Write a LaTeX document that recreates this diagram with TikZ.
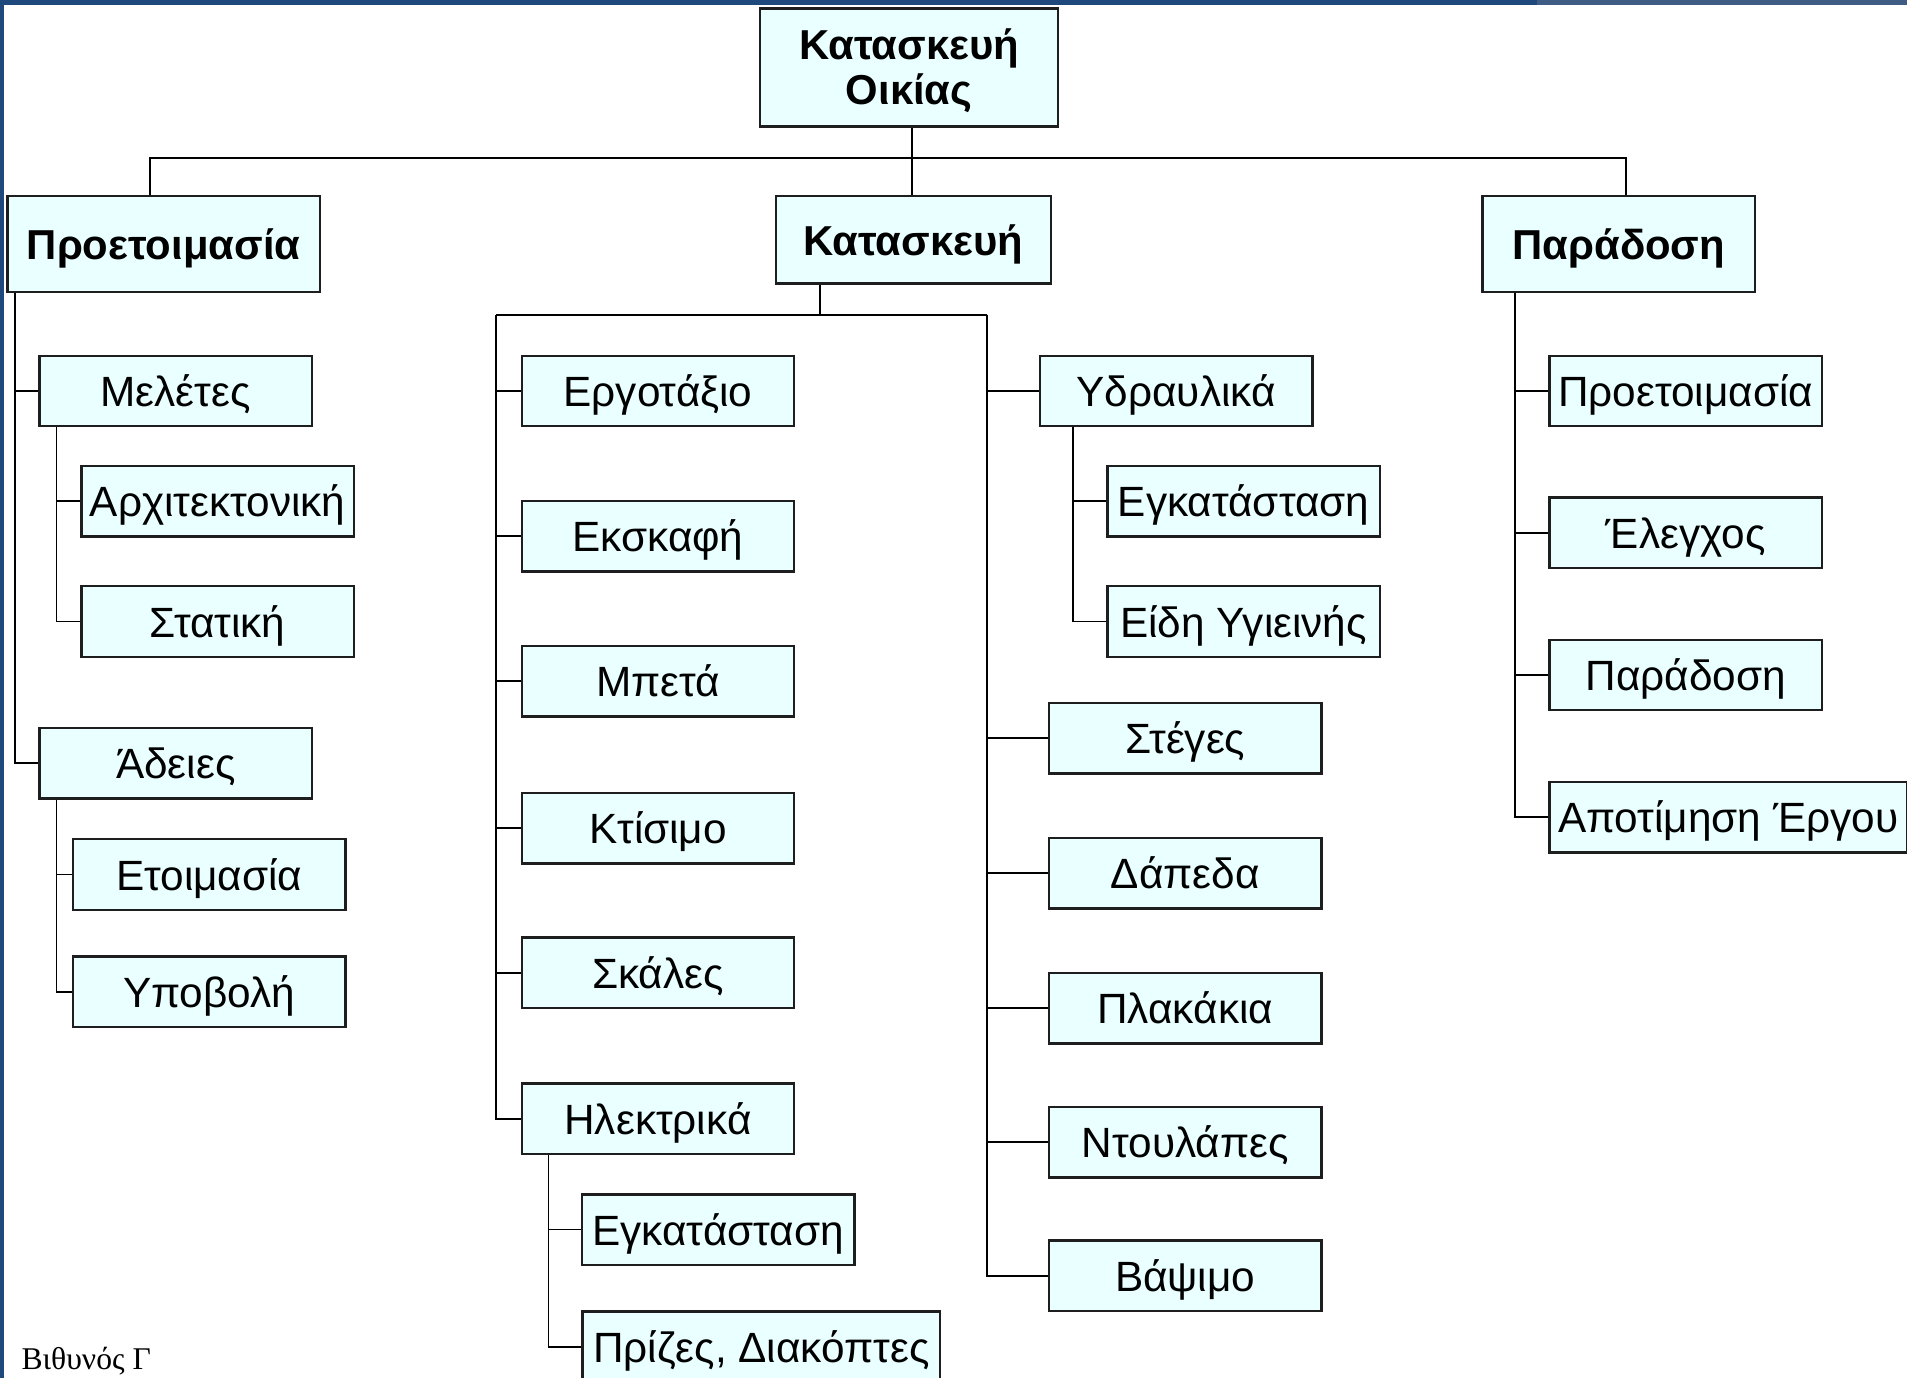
\documentclass[tikz,border=0pt]{standalone}
\usepackage{fontspec}
\setmainfont{Liberation Sans}
\newfontfamily\signfont{Liberation Serif}
\definecolor{boxfill}{RGB}{234,255,255}
\definecolor{boxline}{RGB}{30,30,30}
\definecolor{banddark}{RGB}{31,73,125}
\definecolor{bandlight}{RGB}{62,92,132}
\tikzset{every picture/.style={line width=0.75pt}}
\tikzset{
  wbsbox/.style={draw=boxline, line width=1pt, fill=boxfill, rectangle, inner sep=0pt,
    minimum width=112pt, minimum height=29pt, text height=16.2pt, text depth=3.4pt,
    font=\fontsize{17.4}{18.5}\selectfont},
  wbstop/.style={wbsbox, font=\fontsize{17.2}{18.5}\selectfont\bfseries, align=center}
}
\begin{document}
\begin{tikzpicture}[x=0.5pt,y=0.5pt,yscale=-1]
\useasboundingbox (0,0) rectangle (1568,1133);
\fill[white] (0,0) rectangle (1568,1133);
%Frame bands
\fill[banddark] (0,0) rectangle (1264,4);
\fill[bandlight] (1264,0) rectangle (1568,4);
\fill[banddark] (0,0) rectangle (3,1133);
%Shape: Root
\node[wbstop, text height=, text depth=, minimum width=122.5pt, minimum height=48.5pt] (house) at (747.5,55.5) {\rule{0pt}{15pt}Κατασκευή\\Οικίας};
%Shape: Top level
\node[wbstop, minimum width=128.5pt, minimum height=39.5pt] (prep) at (134.5,200.5) {Προετοιμασία};
\node[wbstop, minimum width=113pt, minimum height=36pt] (build) at (751,197) {Κατασκευή};
\node[wbstop, minimum width=112pt, minimum height=39.5pt] (hand) at (1331,200.5) {Παράδοση};
%Shape: Preparation
\node[wbsbox] (study) at (144.5,321.5) {Μελέτες};
\node[wbsbox] (arch) at (179,412) {Αρχιτεκτονική};
\node[wbsbox] (stat) at (179,511) {Στατική};
\node[wbsbox] (perm) at (144.5,627.5) {Άδειες};
\node[wbsbox] (ready) at (172,719) {Ετοιμασία};
\node[wbsbox] (submit) at (172,815.5) {Υποβολή};
%Shape: Construction, left column
\node[wbsbox] (site) at (541,321.5) {Εργοτάξιο};
\node[wbsbox] (dig) at (541,441) {Εκσκαφή};
\node[wbsbox] (conc) at (541,560) {Μπετά};
\node[wbsbox] (wall) at (541,681) {Κτίσιμο};
\node[wbsbox] (stair) at (541,800) {Σκάλες};
\node[wbsbox] (elec) at (541,920) {Ηλεκτρικά};
\node[wbsbox] (elecinst) at (590.5,1011) {Εγκατάσταση};
\node[wbsbox, minimum width=147pt] (switch) at (626,1107.5) {Πρίζες, Διακόπτες};
%Shape: Construction, right column
\node[wbsbox] (plumb) at (967,321.5) {Υδραυλικά};
\node[wbsbox] (plumbinst) at (1022.5,412) {Εγκατάσταση};
\node[wbsbox] (sanit) at (1022.5,511) {Είδη Υγιεινής};
\node[wbsbox] (roof) at (974.5,607) {Στέγες};
\node[wbsbox] (floor) at (974.5,718) {Δάπεδα};
\node[wbsbox] (tile) at (974.5,829) {Πλακάκια};
\node[wbsbox] (ward) at (974.5,939) {Ντουλάπες};
\node[wbsbox] (paint) at (974.5,1049) {Βάψιμο};
%Shape: Handover
\node[wbsbox] (hprep) at (1386,321.5) {Προετοιμασία};
\node[wbsbox] (check) at (1386,438) {Έλεγχος};
\node[wbsbox] (hdone) at (1386,555) {Παράδοση};
\node[wbsbox, minimum width=147pt] (cost) at (1421,672) {Αποτίμηση Έργου};
%Straight Lines: level one
\coordinate (bus) at ([xshift=1.25pt]house.south |- 0,130);
\draw ([xshift=1.25pt]house.south) -- ([xshift=1.25pt]house.south |- build.north);
\draw ([xshift=-5.75pt]prep.north) |- (bus) -| ([xshift=3pt]hand.north);
%Straight Lines: preparation
\draw ([xshift=3.5pt]prep.south west) |- (study.west);
\draw ([xshift=3.5pt]prep.south west) |- (perm.west);
\foreach \n in {arch,stat} \draw ([xshift=7.5pt]study.south west) |- (\n.west);
\foreach \n in {ready,submit} \draw ([xshift=7.5pt]perm.south west) |- (\n.west);
%Straight Lines: construction
\coordinate (split) at ([xshift=18.5pt]build.south west |- 0,259);
\coordinate (lrail) at ([xshift=-10pt]site.west |- split);
\coordinate (rrail) at ([xshift=-25pt]roof.west |- split);
\draw ([xshift=18.5pt]build.south west) -- (split);
\draw (lrail) -- (rrail);
\foreach \n in {site,dig,conc,wall,stair,elec} \draw (lrail) |- (\n.west);
\foreach \n in {plumb,roof,floor,tile,ward,paint} \draw (rrail) |- (\n.west);
\foreach \n in {elecinst,switch} \draw ([xshift=11.5pt]elec.south west) |- (\n.west);
\foreach \n in {plumbinst,sanit} \draw ([xshift=14pt]plumb.south west) |- (\n.west);
%Straight Lines: handover
\foreach \n in {hprep,check,hdone,cost} \draw ([xshift=14pt]hand.south west) |- (\n.west);
%Text: signature
\node[anchor=base west, inner sep=0pt, font=\signfont\fontsize{13}{14}\selectfont] (sign) at (17,1126) {Βιθυνός Γ};
\end{tikzpicture}
\end{document}
